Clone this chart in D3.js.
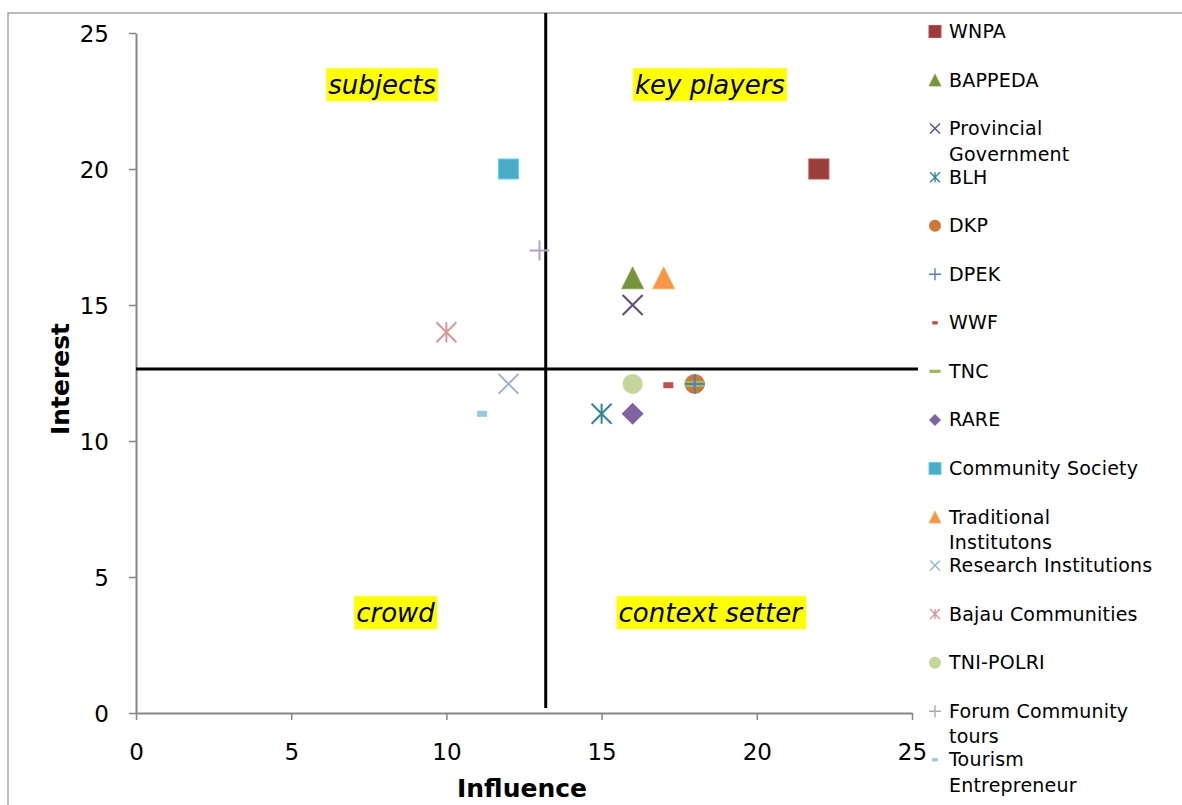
<!DOCTYPE html>
<html>
<head>
<meta charset="utf-8">
<script src="https://cdn.jsdelivr.net/npm/d3@7/dist/d3.min.js"></script>
<style>
  html, body { margin: 0; padding: 0; background: #fff; }
  svg { display: block; font-family: "DejaVu Sans", Verdana, sans-serif; }
</style>
</head>
<body>
<svg id="chart" width="1182" height="805"></svg>
<script>
// Stakeholder mapping: influence vs. interest
const stakeholders = [
  "WNPA", "BAPPEDA", "Provincial Government", "BLH", "DKP", "DPEK", "WWF", "TNC",
  "RARE", "Community Society", "Traditional Institutons", "Research Institutions",
  "Bajau Communities", "TNI-POLRI", "Forum Community tours", "Tourism Entrepreneur"
];
const influence = [22, 16, 16, 15, 18, 18, 17.15, 18, 16, 12, 17, 12, 10, 16, 13, 11.15];
const interest  = [20, 16, 15, 11, 12.1, 12.1, 12.05, 12.1, 11, 20, 16, 12.1, 14, 12.1, 17, 11];

const xTicks = [0, 5, 10, 15, 20, 25];
const yTicks = [0, 5, 10, 15, 20, 25];
const quadrantLabels = ["subjects", "key players", "crowd", "context setter"];
const xDivider = 13.2;    // influence threshold
const yDivider = 12.65;   // interest threshold

// Marker style for each series (same order as stakeholders)
const markerTypes = ["square", "triangle", "x", "star", "circle", "plus", "dash", "longdash",
                     "diamond", "square", "triangle", "x", "star", "circle", "plus", "dash"];
const colors = ["#9b3d3a", "#77933c", "#604a7b", "#31859c", "#d2772f", "#4f81bd", "#c0504d", "#9bbb59",
                "#8064a2", "#4bacc6", "#f79646", "#95b3d7", "#d99694", "#c3d69b", "#b3a2c7", "#93cddd"];

const svg = d3.select("#chart");
const x = d3.scaleLinear().domain([0, 25]).range([136, 912]);
const y = d3.scaleLinear().domain([0, 25]).range([713, 33]);

// Outer chart-area frame
svg.append("rect")
  .attr("x", 8).attr("y", 13).attr("width", 1200).attr("height", 900)
  .attr("fill", "none").attr("stroke", "#a5a5a5").attr("stroke-width", 1.5);

// Axes
const axisColor = "#868686";
const gx = svg.append("g").attr("transform", `translate(0,${y(0)})`)
  .call(d3.axisBottom(x).tickValues(xTicks).tickSize(7).tickSizeOuter(0).tickFormat(d3.format("d")));
const gy = svg.append("g").attr("transform", `translate(${x(0)},0)`)
  .call(d3.axisLeft(y).tickValues(yTicks).tickSize(7).tickSizeOuter(0).tickFormat(d3.format("d")));
[gx, gy].forEach(g => {
  g.select(".domain").attr("stroke", axisColor).attr("stroke-width", 2);
  g.selectAll(".tick line").attr("stroke", axisColor).attr("stroke-width", 1.5);
  g.selectAll(".tick text").attr("fill", "#000").style("font-size", "23px")
    .style("font-family", "DejaVu Sans, Verdana, sans-serif");
});
gx.selectAll(".tick text").attr("y", 47).attr("dy", 0);
gy.selectAll(".tick text").attr("x", -27).attr("dy", "0.36em");

// Axis titles
svg.append("text").attr("x", (x(0) + x(25)) / 2 - 2).attr("y", 797)
  .attr("text-anchor", "middle").style("font-size", "25px").style("font-weight", "bold")
  .text("Influence");
svg.append("text").attr("transform", `translate(69,${(y(0) + y(25)) / 2 + 6}) rotate(-90)`)
  .attr("text-anchor", "middle").style("font-size", "25px").style("font-weight", "bold")
  .text("Interest");

// Quadrant divider lines
svg.append("line")
  .attr("x1", x(xDivider)).attr("x2", x(xDivider))
  .attr("y1", 13).attr("y2", y(0) - 5)
  .attr("stroke", "#000").attr("stroke-width", 3);
svg.append("line")
  .attr("x1", x(0)).attr("x2", 918)
  .attr("y1", y(yDivider)).attr("y2", y(yDivider))
  .attr("stroke", "#000").attr("stroke-width", 3);

// Quadrant labels with highlighted background
const labelAnchors = [[7.93, 23.1], [18.49, 23.1], [8.36, 3.69], [18.5, 3.69]];
quadrantLabels.forEach((t, i) => {
  const g = svg.append("g");
  const txt = g.append("text")
    .attr("x", x(labelAnchors[i][0])).attr("y", y(labelAnchors[i][1]))
    .attr("text-anchor", "middle").attr("dy", "0.36em")
    .style("font-size", "26px").style("font-style", "italic").attr("fill", "#000")
    .text(t);
  const bb = txt.node().getBBox();
  g.insert("rect", "text")
    .attr("x", bb.x - 2).attr("y", y(labelAnchors[i][1]) - 16.5)
    .attr("width", bb.width + 4).attr("height", 33)
    .attr("fill", "#ffff00");
});

// Marker drawing
function drawMarker(g, type, color, s) {
  const h = s / 2;
  switch (type) {
    case "square":
      g.append("rect").attr("x", -h).attr("y", -h).attr("width", s).attr("height", s)
        .attr("fill", color).attr("stroke", d3.color(color).brighter(0.6)).attr("stroke-width", 1);
      break;
    case "triangle":
      g.append("path").attr("d", `M0,${-h}L${h},${h}L${-h},${h}Z`)
        .attr("fill", color).attr("stroke", d3.color(color).brighter(0.4)).attr("stroke-width", 0.8);
      break;
    case "circle":
      g.append("circle").attr("r", h).attr("fill", color);
      break;
    case "diamond":
      g.append("path").attr("d", `M0,${-h}L${h},0L0,${h}L${-h},0Z`).attr("fill", color);
      break;
    case "x":
      g.append("path").attr("d", `M${-h},${-h}L${h},${h}M${h},${-h}L${-h},${h}`)
        .attr("stroke", color).attr("stroke-width", s > 14 ? 2 : 1.4).attr("fill", "none");
      break;
    case "star":
      g.append("path").attr("d", `M${-h},${-h}L${h},${h}M${h},${-h}L${-h},${h}M0,${-h}L0,${h}`)
        .attr("stroke", color).attr("stroke-width", s > 14 ? 2 : 1.4).attr("fill", "none");
      break;
    case "plus":
      g.append("path").attr("d", `M${-h},0L${h},0M0,${-h}L0,${h}`)
        .attr("stroke", color).attr("stroke-width", s > 14 ? 2 : 1.4).attr("fill", "none");
      break;
    case "dash":
      g.append("rect").attr("x", -s * 0.25).attr("y", -s * 0.15).attr("width", s * 0.5).attr("height", s * 0.3)
        .attr("fill", color);
      break;
    case "longdash":
      g.append("rect").attr("x", -h).attr("y", -s * 0.15).attr("width", s).attr("height", s * 0.3)
        .attr("fill", color);
      break;
  }
}

// Plot points; plus markers go last so they stay visible on top
const drawOrder = d3.range(stakeholders.length)
  .sort((a, b) => (markerTypes[a] === "plus") - (markerTypes[b] === "plus") || a - b);
const plotSizes = { square: 20, triangle: 22, x: 20, star: 20, circle: 20, plus: 20,
                    dash: 20, longdash: 20, diamond: 22 };
drawOrder.forEach(i => {
  const g = svg.append("g").attr("transform", `translate(${x(influence[i])},${y(interest[i])})`);
  drawMarker(g, markerTypes[i], colors[i], plotSizes[markerTypes[i]]);
});

// Legend
const legendSizes = { square: 12, triangle: 12, x: 10, star: 10, circle: 12, plus: 12,
                      dash: 11, longdash: 11, diamond: 12 };
const wrapLines = {
  "Provincial Government": ["Provincial", "Government"],
  "Traditional Institutons": ["Traditional", "Institutons"],
  "Forum Community tours": ["Forum Community", "tours"],
  "Tourism Entrepreneur": ["Tourism", "Entrepreneur"]
};
stakeholders.forEach((name, i) => {
  const base = 38 + i * 48.55;
  const g = svg.append("g").attr("transform", `translate(935,${base - 6.5})`);
  drawMarker(g, markerTypes[i], colors[i], legendSizes[markerTypes[i]]);
  const lines = wrapLines[name] || [name];
  const t = svg.append("text").attr("x", 949).attr("y", base)
    .style("font-size", "19px").style("letter-spacing", "0.2px").attr("fill", "#000");
  lines.forEach((l, k) => {
    t.append("tspan").attr("x", 949).attr("y", base + k * 25.5).text(l);
  });
});
</script>
</body>
</html>
